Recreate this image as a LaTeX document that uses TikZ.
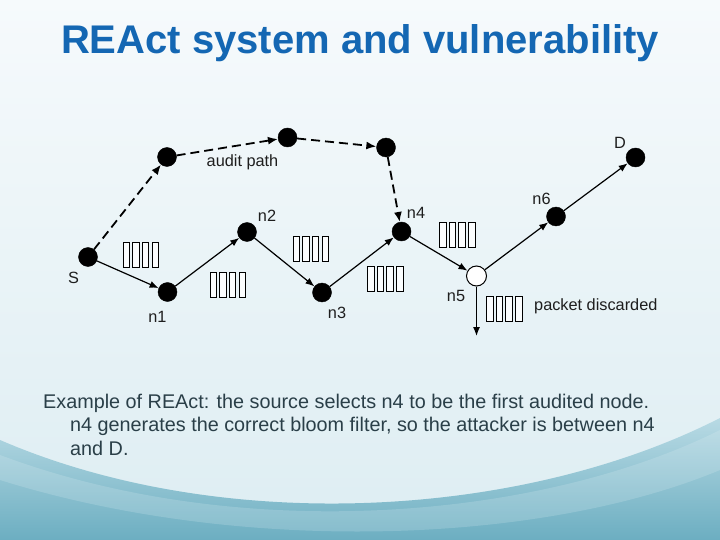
\documentclass[tikz,border=0pt]{standalone}
\usepackage{fontspec}
\setmainfont{Liberation Sans}
\usetikzlibrary{arrows.meta}
\definecolor{titleblue}{HTML}{1467B3}
\definecolor{captxt}{HTML}{2A3F48}
\definecolor{bgtop}{HTML}{F6FAFC}
\definecolor{bgmid}{HTML}{DDEDF2}
\definecolor{tealA}{HTML}{B8DAE4}
\definecolor{tealB}{HTML}{6CAEC1}
\definecolor{lbl}{HTML}{1E1E1E}
\tikzset{
  dot/.style={circle,fill=black,draw=black,inner sep=0pt,minimum size=19pt},
  hollow/.style={circle,fill=white,draw=black,line width=1pt,inner sep=0pt,minimum size=20pt},
  solidarrow/.style={line width=1.2pt,-{Latex[length=9pt,width=7pt]}},
  dasharrow/.style={line width=1.8pt,dash pattern=on 9pt off 5pt,-{Latex[length=10pt,width=8pt]}},
  lab/.style={font=\fontsize{16.3}{19}\selectfont,text=lbl,inner sep=0pt},
  captext/.style={font=\fontsize{19.8}{24}\selectfont,text=captxt,inner sep=0pt,anchor=base west},
  pkt/.pic={\foreach \i in {0,...,3}{\draw[line width=0.9pt,fill=white!60!bgtop] (-17.5+\i*9.7,-12.5) rectangle ++(6.5,25);}}
}
\begin{document}
\begin{tikzpicture}[x=1pt,y=-1pt]
\useasboundingbox (0,0) rectangle (720,540);
% background
\shade[top color=bgtop,bottom color=bgmid] (0,0) rectangle (720,540);
\shade[top color=tealA,bottom color=tealB]
  (0,440) .. controls (220,535) and (520,520) .. (720,418) -- (720,540) -- (0,540) -- cycle;
\shade[top color=tealA!60!white,bottom color=tealA,opacity=0.3]
  (0,455) .. controls (240,545) and (540,520) .. (720,430) -- (720,470) .. controls (540,545) and (240,555) .. (0,480) -- cycle;
% title
\node[font=\fontsize{40}{46}\selectfont\bfseries,text=titleblue,anchor=base,inner sep=0pt] (title) at (360,54) {REAct system and vulnerability};
% nodes
\node[dot] (S) at (88,257) {};
\node[dot] (a1) at (167,157) {};
\node[dot] (a2) at (287.5,137.5) {};
\node[dot] (a3) at (386,147.5) {};
\node[dot] (n1) at (167.5,292) {};
\node[dot] (n2) at (247,232) {};
\node[dot] (n3) at (322,292.5) {};
\node[dot] (n4) at (401.5,231.5) {};
\node[hollow] (n5) at (476.5,276) {};
\node[dot] (n6) at (556,216.5) {};
\node[dot] (D) at (635.5,157.5) {};
\coordinate (drop) at (476.5,336);
% labels
\node[lab] (lS) at (73.5,278) {S};
\node[lab] (l1) at (157.5,317) {n1};
\node[lab] (l2) at (267,215.5) {n2};
\node[lab] (l3) at (337,312.5) {n3};
\node[lab] (l4) at (416,212.5) {n4};
\node[lab] (l5) at (456,295.5) {n5};
\node[lab] (l6) at (541.5,199) {n6};
\node[lab] (lD) at (620,142.5) {D};
\node[lab] (lap) at (242.5,162.5) {audit path};
\node[lab,anchor=west] (lpd) at (534,306.5) {packet discarded};
% audit path
\draw[dasharrow] (S) -- (a1);
\draw[dasharrow] (a1) -- (a2);
\draw[dasharrow] (a2) -- (a3);
\draw[dasharrow] (a3) -- (n4);
% data path
\draw[solidarrow] (S) -- (n1);
\draw[solidarrow] (n1) -- (n2);
\draw[solidarrow] (n2) -- (n3);
\draw[solidarrow] (n3) -- (n4);
\draw[solidarrow] (n4) -- (n5);
\draw[solidarrow] (n5) -- (n6);
\draw[solidarrow] (n6) -- (D);
\draw[solidarrow] (n5) -- (drop);
% packets
\pic at (140.5,255) {pkt};
\pic at (227.5,285) {pkt};
\pic at (310.5,248.5) {pkt};
\pic at (385,279) {pkt};
\pic at (457,235) {pkt};
\pic at (504,308.5) {pkt};
% caption
\node[captext] (c1) at (43,408) {Example of REAct: the source selects n4 to be the first audited node.};
\node[captext] (c2) at (70,431.5) {n4 generates the correct bloom filter, so the attacker is between n4};
\node[captext] (c3) at (70,455) {and D.};
\end{tikzpicture}
\end{document}
